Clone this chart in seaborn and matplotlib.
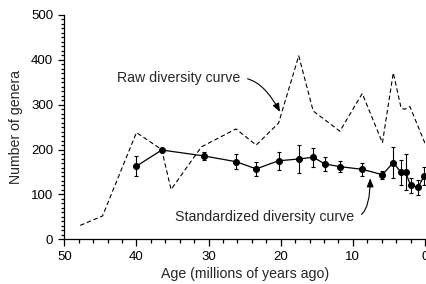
import numpy as np
import pandas as pd
import matplotlib
matplotlib.use("Agg")
import matplotlib.pyplot as plt
import matplotlib.ticker as mticker
import seaborn as sns

# raw diversity curve (dashed)
raw_age = [47.8, 44.7, 40.0, 36.5, 35.2, 31.0, 26.2, 23.4, 20.3, 17.5,
           15.5, 11.8, 8.7, 5.9, 4.4, 3.3, 2.8, 2.1, 0.0]
raw_genera = [31, 52, 238, 200, 111, 206, 246, 210, 259, 409,
              286, 241, 325, 215, 371, 292, 290, 296, 214]

# standardized diversity curve (points with error bars)
std_age = [40.0, 36.5, 30.7, 26.2, 23.4, 20.3, 17.5, 15.5, 13.9, 11.8,
           8.7, 5.9, 4.4, 3.3, 2.7, 2.0, 0.95, 0.1]
std_genera = [163, 199, 186, 173, 157, 175, 179, 183, 168, 162,
              156, 144, 171, 149, 150, 120, 116, 142]
std_err = [22, 3, 9, 17, 16, 20, 32, 21, 15, 13,
           15, 9, 35, 28, 41, 16, 17, 20]

raw_df = pd.DataFrame({"age": raw_age, "genera": raw_genera})
std_df = pd.DataFrame({"age": std_age, "genera": std_genera, "err": std_err})

sns.set_theme(style="ticks")
plt.rcParams["font.family"] = ["Liberation Sans", "DejaVu Sans"]
plt.rcParams.update({
    "axes.linewidth": 0.9,
    "xtick.major.width": 0.9, "ytick.major.width": 0.9,
    "xtick.minor.width": 0.9, "ytick.minor.width": 0.9,
    "xtick.major.size": 4.8, "ytick.major.size": 4.5,
    "xtick.minor.size": 3, "ytick.minor.size": 2.4,
    "xtick.labelsize": 9.5, "ytick.labelsize": 9.5,
    "axes.labelsize": 10.2,
    "xtick.color": "black", "ytick.color": "black",
    "axes.edgecolor": "black",
})

fig = plt.figure(figsize=(4.27, 2.84), dpi=100)
ax = fig.add_axes([0.1506, 0.1574, 0.8447, 0.7898])

sns.lineplot(data=raw_df, x="age", y="genera", color="black", lw=0.8,
             linestyle=(0, (4, 2.5)), sort=False, ax=ax)
ax.errorbar(std_df["age"], std_df["genera"], yerr=std_df["err"], fmt="none",
            ecolor="black", elinewidth=0.8, capsize=1.5, capthick=0.8)
sns.lineplot(data=std_df, x="age", y="genera", color="black", lw=0.9,
             marker="o", markersize=4.3, markeredgecolor="black", sort=False, ax=ax)

ax.set_xlim(50, 0)
ax.set_ylim(0, 500)
ax.xaxis.set_major_locator(mticker.MultipleLocator(10))
ax.xaxis.set_minor_locator(mticker.MultipleLocator(2))
ax.yaxis.set_major_locator(mticker.MultipleLocator(100))
ax.yaxis.set_minor_locator(mticker.MultipleLocator(10))
ax.set_xlabel("Age (millions of years ago)", labelpad=3)
ax.set_ylabel("Number of genera", labelpad=6)
sns.despine(ax=ax)

# callout labels with curved arrows
ax.annotate("Raw diversity curve", xy=(20.1, 284), xytext=(42.7, 360),
            fontsize=10.2, va="center", ha="left",
            arrowprops=dict(arrowstyle="-|>,head_length=0.5,head_width=0.2",
                            color="black", lw=0.8, shrinkA=3, shrinkB=0,
                            relpos=(1.0, 0.5),
                            connectionstyle="angle3,angleA=0,angleB=-62"))
ax.annotate("Standardized diversity curve", xy=(7.6, 136), xytext=(34.6, 50),
            fontsize=10.2, va="center", ha="left",
            arrowprops=dict(arrowstyle="-|>,head_length=0.5,head_width=0.2",
                            color="black", lw=0.8, shrinkA=3, shrinkB=0,
                            relpos=(1.0, 0.5),
                            connectionstyle="angle3,angleA=0,angleB=90"))

fig.savefig("out.png", dpi=100)
